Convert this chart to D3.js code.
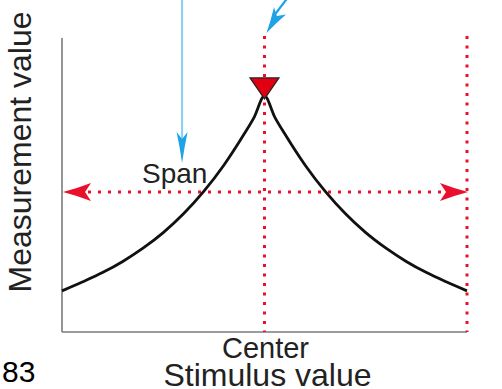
<!DOCTYPE html>
<html>
<head>
<meta charset="utf-8">
<script src="https://cdn.jsdelivr.net/npm/d3@7/dist/d3.min.js"></script>
<style>
  html, body { margin: 0; padding: 0; background: #fff; }
  svg { display: block; }
  text { font-family: "Liberation Sans", Arial, Helvetica, sans-serif; }
</style>
</head>
<body>
<svg id="chart" width="502" height="389"></svg>
<script>
// ---- data ----
const stimulus    = [-100, -90, -80, -70, -60, -50, -40, -30, -20, -10, -5, 0, 5, 10, 20, 30, 40, 50, 60, 70, 80, 90, 100];
const measurement = [14.0, 17.0, 20.2, 24.0, 28.5, 33.8, 40.2, 47.8, 56.8, 67.4, 73.2, 80.3, 73.2, 67.4, 56.8, 47.8, 40.2, 33.8, 28.5, 24.0, 20.2, 17.0, 14.0];
const centerValue = 0;        // stimulus at the peak
const edgeValue   = 100;      // stimulus of the right dotted line
const spanLevel   = 47.6;     // measurement level of the span arrow
const xTickLabels = ["Center"];
const xTitle = "Stimulus value";
const yTitle = "Measurement value";
const spanLabel = "Span";
const pageNumber = "83";

// ---- layout ----
const svg = d3.select("#chart");
const x = d3.scaleLinear().domain([-100, 100]).range([62, 467]);
const y = d3.scaleLinear().domain([0, 100]).range([332, 38]);

const red = "#e8102a";
const blue = "#1ea3e6";
const axisGray = "#7a7a7a";

// axes (plain lines, no ticks)
svg.append("line").attr("x1", x(-100)).attr("x2", x(-100)).attr("y1", y(100)).attr("y2", y(0))
  .attr("stroke", axisGray).attr("stroke-width", 1.6);
svg.append("line").attr("x1", x(-100)).attr("x2", x(100)).attr("y1", y(0)).attr("y2", y(0))
  .attr("stroke", axisGray).attr("stroke-width", 1.6);

// red dotted vertical lines
[centerValue, edgeValue].forEach(v => {
  svg.append("line").attr("x1", x(v)).attr("x2", x(v)).attr("y1", y(100.7)).attr("y2", y(0))
    .attr("stroke", red).attr("stroke-width", 3).attr("stroke-dasharray", "3,6.5");
});

// red dotted horizontal span line with arrowheads
const sy = y(spanLevel);
svg.append("line").attr("x1", x(-100) + 26).attr("x2", x(100) - 26).attr("y1", sy).attr("y2", sy)
  .attr("stroke", red).attr("stroke-width", 3).attr("stroke-dasharray", "3,7");

function arrowHead(tipX, tipY, angle, len, half, notch, color) {
  // angle: direction the arrow points (radians)
  const ca = Math.cos(angle), sa = Math.sin(angle);
  const pt = (a, b) => [tipX - a * ca - b * -sa, tipY - a * sa - b * ca];
  const p = [pt(0, 0), pt(len, half), pt(len - notch, 0), pt(len, -half)];
  svg.append("path")
    .attr("d", `M${p[0]}Q${pt(len * 0.55, half * 0.45)} ${p[1]}L${p[2]}L${p[3]}Q${pt(len * 0.55, -half * 0.45)} ${p[0]}Z`)
    .attr("fill", color);
}
arrowHead(x(-100) + 1, sy, Math.PI, 28, 9, 6, red);
arrowHead(x(100) + 1, sy, 0, 28, 9, 6, red);

// curve
const line = d3.line().x((d, i) => x(stimulus[i])).y(d => y(d)).curve(d3.curveMonotoneX);
svg.append("path").datum(measurement).attr("d", line)
  .attr("fill", "none").attr("stroke", "#111").attr("stroke-width", 2.8);

// red inverted triangle at the peak
const peak = d3.max(measurement);
const tx = x(centerValue), tTip = y(peak) + 3;
svg.append("path")
  .attr("d", `M${tx - 14.5},${tTip - 21}L${tx + 14.5},${tTip - 21}L${tx},${tTip}Z`)
  .attr("fill", "#e00012").attr("stroke", "#222").attr("stroke-width", 1.2).attr("stroke-linejoin", "miter");

// blue pointer arrows
const bx = x(-40.7);
svg.append("line").attr("x1", bx).attr("x2", bx).attr("y1", 0).attr("y2", y(62))
  .attr("stroke", "#84cff4").attr("stroke-width", 2);
arrowHead(bx, y(57.5), Math.PI / 2, 31, 5.5, 7, blue);

const dTipX = x(centerValue) + 2, dTipY = y(101.7);
const dAng = Math.atan2(dTipY - 0, dTipX - (dTipX + 21));
svg.append("line").attr("x1", dTipX + 21).attr("y1", -2).attr("x2", dTipX + 8).attr("y2", dTipY - 18)
  .attr("stroke", blue).attr("stroke-width", 2.2);
arrowHead(dTipX, dTipY, Math.atan2(33, -20), 26, 7, 6, blue);

// texts
const txt = "#222";
svg.append("text").attr("x", x(centerValue) + 1).attr("y", 358).attr("text-anchor", "middle")
  .attr("font-size", 29).attr("fill", txt).text(xTickLabels[0]);
svg.append("text").attr("x", 267.5).attr("y", 386).attr("text-anchor", "middle")
  .attr("font-size", 32).attr("fill", txt).text(xTitle);
svg.append("text").attr("transform", "translate(31,152) rotate(-90)").attr("text-anchor", "middle")
  .attr("font-size", 32).attr("fill", txt).text(yTitle);
svg.append("text").attr("x", 142).attr("y", 183).attr("font-size", 28).attr("fill", txt).text(spanLabel);
svg.append("text").attr("x", 2).attr("y", 382).attr("font-size", 30).attr("fill", "#000").text(pageNumber);
</script>
</body>
</html>
